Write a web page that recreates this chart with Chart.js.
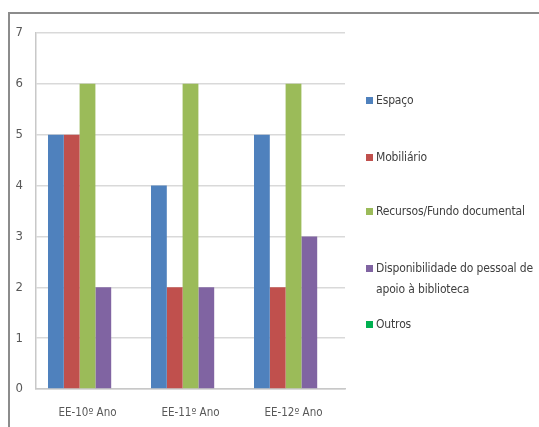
<!DOCTYPE html>
<html>
<head>
<meta charset="utf-8">
<script src="https://cdn.jsdelivr.net/npm/chart.js@4"></script>
<style>
  html, body { margin: 0; padding: 0; background: #fff; }
  #wrap { position: relative; width: 539px; height: 427px; overflow: hidden; }
  #frame { position: absolute; left: 8px; top: 12px; width: 600px; height: 500px;
           border: 2px solid #8c8c8c; box-sizing: border-box; }
  canvas { position: absolute; left: 0; top: 0; }
  #legend { position: absolute; left: 366px; top: 0; font-family: 'DejaVu Sans Condensed', 'Liberation Sans', sans-serif;
            font-size: 12px; color: #404040; }
  .item { position: absolute; left: 0; white-space: nowrap; line-height: 21px; }
  .sw { position: absolute; left: 0; top: 7px; width: 7px; height: 7px; }
  .txt { position: absolute; left: 10px; top: 0; letter-spacing: -0.15px; }
</style>
</head>
<body>
<div id="wrap">
  <div id="frame"></div>
  <canvas id="chart" width="539" height="427"></canvas>
  <div id="legend"></div>
</div>
<script>
const categories = ['EE-10º Ano', 'EE-11º Ano', 'EE-12º Ano'];
const seriesNames = ['Espaço', 'Mobiliário', 'Recursos/Fundo documental',
  ['Disponibilidade do pessoal de', 'apoio à biblioteca'], 'Outros'];
const espaco = [5, 4, 5];
const mobiliario = [5, 2, 2];
const recursos = [6, 6, 6];
const disponibilidade = [2, 2, 3];
const outros = [0, 0, 0];
const colors = ['#4F81BD', '#C0504D', '#9BBB59', '#8064A2', '#00B050'];
const legendTops = [90, 147, 201, 258, 314];

const allSeries = [espaco, mobiliario, recursos, disponibilidade, outros];
const family = "'DejaVu Sans Condensed', 'Liberation Sans', sans-serif";

const ctx = document.getElementById('chart').getContext('2d');
new Chart(ctx, {
  type: 'bar',
  data: {
    labels: categories,
    datasets: allSeries.map((d, i) => ({
      label: Array.isArray(seriesNames[i]) ? seriesNames[i].join(' ') : seriesNames[i],
      data: d,
      backgroundColor: colors[i],
      borderWidth: 0
    }))
  },
  options: {
    responsive: false,
    animation: false,
    layout: { padding: { left: 0, top: 33, right: 194, bottom: 0 } },
    datasets: { bar: { categoryPercentage: 0.767, barPercentage: 1 } },
    plugins: { legend: { display: false }, tooltip: { enabled: false } },
    scales: {
      x: {
        grid: { display: false, drawTicks: false },
        border: { color: '#c8c8c8', width: 1.5 },
        ticks: { color: '#595959', font: { family: family, size: 11.5 }, padding: 17 },
        afterFit: s => { s.height = 38; }
      },
      y: {
        min: 0, max: 7,
        grid: { color: '#d9d9d9', lineWidth: 1.5, drawTicks: false },
        border: { color: '#c8c8c8', width: 1.5 },
        ticks: { stepSize: 1, color: '#595959', font: { family: family, size: 13 }, padding: 13 },
        afterFit: s => { s.width = 36; }
      }
    }
  }
});

// legend on the right, built from the series names
const legend = document.getElementById('legend');
seriesNames.forEach((name, i) => {
  const item = document.createElement('div');
  item.className = 'item';
  item.style.top = legendTops[i] + 'px';
  const sw = document.createElement('div');
  sw.className = 'sw';
  sw.style.background = colors[i];
  const txt = document.createElement('div');
  txt.className = 'txt';
  txt.innerHTML = (Array.isArray(name) ? name : [name]).join('<br>');
  item.appendChild(sw);
  item.appendChild(txt);
  legend.appendChild(item);
});
</script>
</body>
</html>
